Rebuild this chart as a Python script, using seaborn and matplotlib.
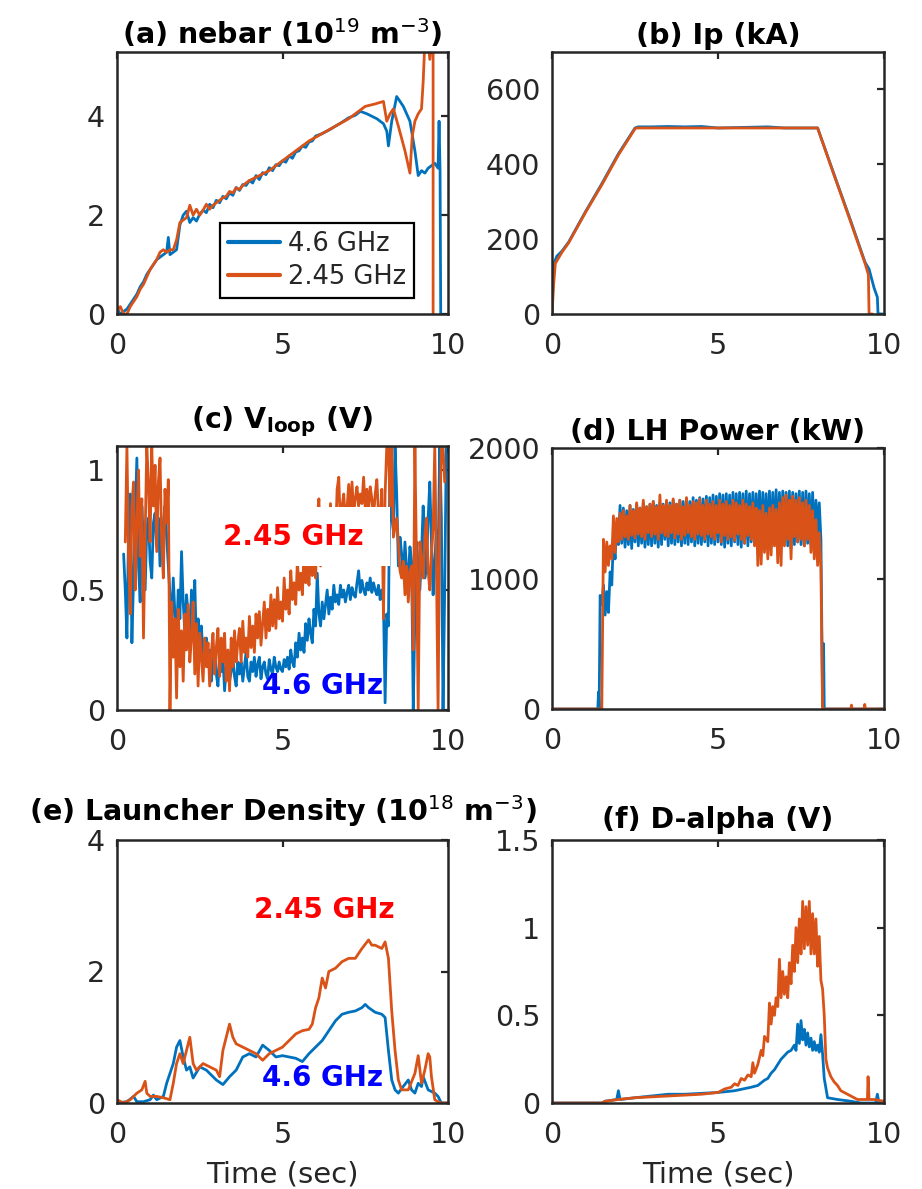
import numpy as np
import matplotlib
matplotlib.use("Agg")
import matplotlib.pyplot as plt
from matplotlib.patches import Rectangle
import seaborn as sns

# ---------------------------------------------------------------- data
SERIES_LABELS = ["4.6 GHz", "2.45 GHz"]
X_TICKS = [0, 5, 10]
X_TICK_LABELS = ["0", "5", "10"]

# (a) line-averaged density nebar (1e19 m^-3)
nebar_46_t = [0.0, 0.05, 0.1, 0.2, 0.3, 0.4, 0.5, 0.6, 0.7, 0.8, 0.9, 1.0, 1.1, 1.2, 1.3, 1.4,
              1.5, 1.55, 1.6, 1.7, 1.8, 1.9, 2.0, 2.1, 2.2, 2.3, 2.4, 2.5, 2.6, 2.7, 2.8, 2.9,
              3.0, 3.1, 3.2, 3.3, 3.4, 3.5, 3.6, 3.7, 3.8, 3.9, 4.0, 4.1, 4.2, 4.3, 4.4, 4.5,
              4.6, 4.7, 4.8, 4.9, 5.0, 5.1, 5.2, 5.3, 5.4, 5.5, 5.6, 5.7, 5.8, 5.9, 6.0,
              6.2, 6.4, 6.6, 6.8, 7.0, 7.2, 7.35, 7.55, 7.85, 8.05, 8.15, 8.2, 8.3, 8.45, 8.65, 8.85,
              9.0, 9.1, 9.2, 9.3, 9.4, 9.5, 9.6, 9.7, 9.73, 9.76, 9.78]
nebar_46_v = [0.15, 0.05, 0.0, 0.05, 0.1, 0.2, 0.3, 0.4, 0.55, 0.65, 0.8, 0.9, 1.0, 1.1, 1.15, 1.2,
              1.25, 1.55, 1.2, 1.25, 1.3, 1.8, 2.0, 2.08, 1.85, 1.95, 1.88, 2.02, 2.1, 2.05, 2.22, 2.15,
              2.3, 2.25, 2.38, 2.33, 2.45, 2.4, 2.56, 2.5, 2.62, 2.6, 2.7, 2.65, 2.8, 2.72, 2.86, 2.82,
              2.96, 2.9, 3.02, 3.0, 3.1, 3.07, 3.2, 3.15, 3.28, 3.3, 3.4, 3.37, 3.48, 3.5, 3.6,
              3.65, 3.72, 3.8, 3.88, 3.97, 4.02, 4.1, 4.05, 3.95, 3.85, 3.7, 3.4, 3.9, 4.4, 4.2, 3.9,
              3.3, 2.8, 2.9, 2.85, 2.95, 3.0, 3.05, 2.95, 3.9, 2.9, 0.0]
nebar_245_t = [0.0, 0.1, 0.2, 0.3, 0.4, 0.5, 0.6, 0.7, 0.8, 0.9, 1.0, 1.1, 1.2, 1.3, 1.4, 1.5,
               1.6, 1.7, 1.8, 1.9, 2.0, 2.1, 2.2, 2.3, 2.4, 2.5, 2.6, 2.7, 2.8, 2.9, 3.0, 3.1,
               3.2, 3.3, 3.4, 3.5, 3.6, 3.7, 3.8, 4.0, 4.3, 4.6, 5.0, 5.4, 5.8, 6.2, 6.6, 7.0,
               7.3, 7.5, 7.8, 8.05, 8.15, 8.25, 8.35, 8.5, 8.7, 8.85, 8.92, 9.0, 9.1, 9.2, 9.25, 9.3,
               9.4, 9.45, 9.5, 9.55, 9.55]
nebar_245_v = [0.05, 0.15, 0.0, 0.0, 0.15, 0.25, 0.35, 0.5, 0.6, 0.75, 0.9, 1.0, 1.1, 1.25, 1.3, 1.25,
               1.3, 1.3, 1.5, 1.85, 1.9, 1.95, 2.2, 2.0, 2.12, 2.0, 2.1, 2.22, 2.12, 2.2, 2.25, 2.3,
               2.35, 2.38, 2.48, 2.45, 2.55, 2.52, 2.6, 2.7, 2.8, 2.9, 3.1, 3.3, 3.5, 3.65, 3.8, 3.95,
               4.1, 4.2, 4.25, 4.3, 3.9, 4.05, 4.15, 3.8, 3.3, 2.85, 3.6, 3.9, 4.05, 4.15, 4.7, 5.5,
               5.5, 5.15, 5.5, 5.5, 0.0]

# (b) plasma current Ip (kA)
ip_46_t = [0.0, 0.03, 0.08, 0.15, 0.3, 0.5, 1.0, 1.5, 2.0, 2.5, 2.6, 3.0, 3.5, 4.0, 4.5, 5.0,
           6.5, 7.0, 8.0, 8.5, 9.0, 9.43, 9.55, 9.7, 9.8, 9.82, 9.95]
ip_46_v = [0, 90, 140, 155, 168, 192, 272, 348, 428, 497, 500, 500, 501, 500, 501, 497,
           500, 497, 497, 372, 248, 138, 120, 70, 45, 0, 0]
ip_245_t = [0.0, 0.05, 0.1, 0.2, 0.3, 0.5, 1.0, 1.5, 2.0, 2.5, 2.55, 8.0, 8.5, 9.0, 9.43, 9.53, 9.55, 9.65]
ip_245_v = [0, 80, 135, 150, 165, 190, 270, 345, 425, 495, 497, 497, 370, 245, 135, 105, 0, 0]

# (c) loop voltage (V), sampled every 0.05 s
VLOOP_DT = 0.05
vloop_46_t0 = 0.2
vloop_46 = [0.65, 0.50, 0.30, 0.75, 0.90, 0.28, 0.55, 0.80, 1.05, 0.60,
            0.45, 0.85, 0.70, 0.50, 0.76, 0.80, 0.62, 0.55, 0.78, 0.82,
            0.68, 0.80, 0.60, 0.74, 0.78, 0.85, 0.72, 0.60, 0.48, 0.35,
            0.55, 0.40, 0.30, 0.50, 0.38, 0.66, 0.45, 0.32, 0.48, 0.40,
            0.28, 0.50, 0.35, 0.54, 0.25, 0.38, 0.30, 0.35, 0.22, 0.28,
            0.30, 0.18, 0.25, 0.12, 0.20, 0.25, 0.15, 0.10, 0.22, 0.16,
            0.22, 0.08, 0.18, 0.20, 0.12, 0.16, 0.22, 0.14, 0.10, 0.20,
            0.15, 0.20, 0.12, 0.18, 0.24, 0.14, 0.12, 0.20, 0.16, 0.22,
            0.14, 0.19, 0.22, 0.13, 0.18, 0.20, 0.15, 0.13, 0.21, 0.17,
            0.15, 0.22, 0.18, 0.16, 0.20, 0.17, 0.16, 0.21, 0.18, 0.22,
            0.17, 0.25, 0.20, 0.18, 0.28, 0.22, 0.32, 0.25, 0.30, 0.24,
            0.36, 0.29, 0.38, 0.32, 0.28, 0.42, 0.35, 0.57, 0.40, 0.35,
            0.45, 0.38, 0.44, 0.50, 0.40, 0.47, 0.42, 0.52, 0.45, 0.48,
            0.44, 0.52, 0.47, 0.50, 0.45, 0.49, 0.52, 0.46, 0.51, 0.48,
            0.47, 0.53, 0.58, 0.49, 0.54, 0.50, 0.48, 0.53, 0.50, 0.55,
            0.49, 0.53, 0.50, 0.48, 0.52, 0.46, 0.50, 0.45, 0.03, 0.40,
            0.35, 1.10, 0.80, 0.75, 1.10, 0.90, 0.60, 0.72, 0.65, 0.55,
            0.70, 0.58, 0.55, 0.68, 0.62, 0.00, 0.40, 0.70, 0.60, 0.50,
            0.65, 0.85, 0.55, 0.60, 0.80, 0.95, 0.70, 0.48, 0.62, 0.75,
            0.60, 1.10, 0.80, 0.00, 0.50, 1.10, 1.10]
vloop_245_t0 = 0.25
vloop_245 = [0.70, 1.10, 0.62, 0.40, 0.85, 0.95, 0.50, 0.78, 1.00, 0.64,
             0.88, 0.30, 0.72, 1.10, 0.95, 0.70, 1.10, 0.85, 1.02, 0.66,
             0.95, 1.05, 0.70, 0.55, 0.92, 0.78, 0.96, 0.00, 0.45, 0.22,
             0.38, 0.05, 0.42, 0.18, 0.33, 0.12, 0.40, 0.25, 0.44, 0.20,
             0.30, 0.45, 0.15, 0.36, 0.10, 0.32, 0.22, 0.12, 0.30, 0.18,
             0.28, 0.10, 0.24, 0.32, 0.15, 0.26, 0.34, 0.14, 0.30, 0.20,
             0.32, 0.12, 0.25, 0.08, 0.30, 0.18, 0.33, 0.20, 0.28, 0.34,
             0.20, 0.37, 0.24, 0.30, 0.22, 0.39, 0.26, 0.35, 0.24, 0.40,
             0.30, 0.41, 0.27, 0.36, 0.45, 0.30, 0.42, 0.33, 0.48, 0.35,
             0.46, 0.34, 0.51, 0.38, 0.45, 0.37, 0.55, 0.42, 0.50, 0.40,
             0.58, 0.46, 0.53, 0.44, 0.62, 0.50, 0.57, 0.48, 0.66, 0.53,
             0.60, 0.52, 0.69, 0.56, 0.63, 0.55, 0.80, 0.88, 0.60, 0.70,
             0.80, 0.66, 0.75, 0.68, 0.86, 0.72, 0.80, 0.70, 0.92, 0.97,
             0.76, 0.85, 0.90, 0.79, 0.84, 0.94, 0.80, 0.95, 0.82, 0.88,
             0.93, 0.85, 0.90, 0.86, 0.97, 0.84, 0.92, 0.83, 0.93, 0.88,
             0.80, 0.90, 0.96, 0.82, 0.76, 0.92, 0.38, 0.90, 1.10, 1.10,
             0.85, 1.10, 0.72, 0.76, 0.80, 0.70, 0.58, 0.55, 0.62, 0.48,
             0.60, 0.45, 0.58, 0.60, 0.25, 1.10, 0.60, 0.00, 0.70, 0.62,
             0.55, 0.72, 0.80, 0.58, 0.50, 0.65, 0.75, 1.10, 0.60, 0.00,
             0.80, 1.10, 1.10, 0.95]

# (d) LH power (kW): off-phase pieces plus the flat-top sampled every 0.05 s
LH_DT = 0.05
lh_46_pre_t = [0.0, 1.38, 1.40, 1.42]
lh_46_pre_v = [0, 0, 130, 0]
lh_46_t0 = 1.45
lh_46 = [870, 800, 950, 720, 900, 740, 1050, 950, 1300, 1150, 1420, 1260,
         1560, 1270, 1540, 1240, 1520, 1260, 1560, 1230, 1530, 1280,
         1570, 1250, 1540, 1270, 1580, 1240, 1550, 1260, 1570, 1250,
         1590, 1270, 1560, 1240, 1580, 1260, 1570, 1300, 1590, 1250,
         1580, 1270, 1600, 1260, 1570, 1280, 1600, 1250, 1590, 1270,
         1610, 1260, 1590, 1280, 1620, 1250, 1600, 1270, 1620, 1260,
         1610, 1280, 1630, 1250, 1620, 1270, 1640, 1260, 1630, 1280,
         1650, 1260, 1640, 1240, 1650, 1270, 1640, 1250, 1660, 1280,
         1650, 1260, 1660, 1240, 1650, 1270, 1670, 1250, 1650, 1280,
         1660, 1260, 1650, 1270, 1670, 1250, 1660, 1280, 1650, 1260,
         1670, 1240, 1660, 1270, 1680, 1250, 1660, 1280, 1670, 1260,
         1660, 1250, 1670, 1230, 1660, 1260, 1650, 1280, 1670, 1260,
         1660, 1250, 1670, 1270, 1650, 1260, 1660, 1280, 1600, 1350,
         1580, 1300]
lh_46_post_t = [8.15, 8.18, 8.2, 10.0]
lh_46_post_v = [20, 500, 0, 0]
lh_245_pre_t = [0.0, 1.5]
lh_245_pre_v = [0, 0]
lh_245_t0 = 1.55
lh_245 = [1300, 1050, 1280, 1100, 1250, 1150, 1480, 1200, 1460, 1280,
          1500, 1300, 1520, 1320, 1480, 1300, 1560, 1330, 1520, 1310,
          1580, 1340, 1540, 1320, 1600, 1300, 1550, 1350, 1570, 1320,
          1590, 1340, 1550, 1300, 1640, 1350, 1560, 1330, 1600, 1320,
          1560, 1350, 1610, 1310, 1570, 1340, 1600, 1300, 1550, 1330,
          1620, 1350, 1560, 1320, 1590, 1300, 1580, 1340, 1610, 1330,
          1560, 1300, 1600, 1340, 1570, 1320, 1590, 1300, 1560, 1350,
          1600, 1280, 1570, 1330, 1590, 1300, 1560, 1320, 1600, 1290,
          1580, 1340, 1560, 1300, 1600, 1270, 1570, 1330, 1550, 1300,
          1580, 1250, 1540, 1100, 1520, 1110, 1560, 1200, 1500, 1150,
          1540, 1180, 1560, 1250, 1530, 1120, 1580, 1100, 1620, 1250,
          1640, 1300, 1600, 1150, 1630, 1320, 1600, 1280, 1620, 1300,
          1580, 1250, 1600, 1300, 1560, 1200, 1520, 1150, 1450, 1100,
          1350, 1080]
lh_245_post_t = [8.15, 9.0, 9.02, 9.04, 9.4, 9.42, 9.44, 10.0]
lh_245_post_v = [0, 0, 30, 0, 0, 35, 0, 0]

# (e) launcher density (1e18 m^-3)
nl_46_t = [0.0, 0.3, 0.5, 0.6, 0.8, 1.0, 1.1, 1.2, 1.4, 1.5, 1.6, 1.7, 1.8, 1.9, 2.0, 2.1,
           2.2, 2.3, 2.5, 2.7, 2.9, 3.0, 3.2, 3.4, 3.6, 3.8, 4.0, 4.2, 4.4, 4.6, 4.8, 5.0,
           5.2, 5.4, 5.6, 5.8, 6.0, 6.2, 6.4, 6.6, 6.8, 7.0, 7.2, 7.4, 7.5, 7.6, 7.8, 8.0,
           8.1, 8.2, 8.3, 8.4, 8.5, 8.6, 8.8, 8.9, 9.0, 9.1, 9.2, 9.25, 9.4, 9.6, 9.7, 9.8, 10.0]
nl_46_v = [0.0, 0.02, 0.1, 0.02, 0.02, 0.05, 0.12, 0.05, 0.1, 0.3, 0.45, 0.6, 0.85, 0.95, 0.7, 0.5,
           0.55, 0.38, 0.55, 0.5, 0.4, 0.35, 0.28, 0.4, 0.5, 0.7, 0.75, 0.7, 0.88, 0.8, 0.7, 0.72,
           0.7, 0.68, 0.63, 0.75, 0.85, 0.95, 1.1, 1.25, 1.35, 1.38, 1.4, 1.45, 1.5, 1.45, 1.38, 1.35,
           1.3, 0.8, 0.35, 0.2, 0.15, 0.22, 0.35, 0.2, 0.15, 0.3, 0.25, 0.4, 0.2, 0.15, 0.1, 0.0, 0.0]
nl_245_t = [0.0, 0.2, 0.4, 0.6, 0.75, 0.85, 0.9, 1.0, 1.2, 1.4, 1.6, 1.7, 1.8, 1.9, 2.0, 2.1,
            2.2, 2.3, 2.4, 2.6, 2.8, 3.0, 3.1, 3.2, 3.3, 3.4, 3.5, 3.6, 3.8, 4.0, 4.2, 4.4,
            4.6, 4.8, 5.0, 5.2, 5.4, 5.6, 5.8, 5.9, 6.0, 6.1, 6.2, 6.3, 6.4, 6.6, 6.8, 7.0,
            7.2, 7.4, 7.6, 7.7, 7.8, 8.0, 8.1, 8.2, 8.3, 8.4, 8.5, 8.6, 8.8, 9.0, 9.1, 9.2,
            9.3, 9.4, 9.45, 9.5, 9.6, 9.7, 9.8, 10.0]
nl_245_v = [0.05, 0.0, 0.05, 0.15, 0.2, 0.33, 0.15, 0.1, 0.1, 0.08, 0.05, 0.3, 0.6, 0.75, 0.6, 0.8,
            1.0, 0.6, 0.5, 0.6, 0.55, 0.5, 0.4, 0.8, 1.0, 1.2, 1.0, 0.9, 0.85, 0.8, 0.75, 0.65,
            0.75, 0.8, 0.85, 0.95, 1.05, 1.1, 1.12, 1.2, 1.45, 1.6, 1.9, 1.75, 2.0, 2.05, 2.15, 2.2,
            2.2, 2.35, 2.48, 2.4, 2.4, 2.35, 2.45, 2.2, 1.4, 0.8, 0.35, 0.2, 0.2, 0.45, 0.72, 0.3,
            0.5, 0.75, 0.7, 0.4, 0.05, 0.02, 0.0, 0.0]

# (f) D-alpha (V)
da_46_t = [0.0, 1.5, 1.6, 1.95, 2.0, 2.05, 2.5, 3.0, 3.5, 4.0, 4.5, 5.0, 5.5, 6.0,
           6.2, 6.4, 6.5, 6.6, 6.7, 6.8, 6.9, 7.0, 7.1, 7.2, 7.3, 7.35, 7.4, 7.45, 7.5, 7.55,
           7.6, 7.65, 7.7, 7.75, 7.8, 7.85, 7.9, 7.95, 8.0, 8.05, 8.1, 8.15, 8.2, 8.3, 8.6, 9.0,
           9.3, 9.75, 9.8, 9.85, 10.0]
da_46_v = [0.0, 0.0, 0.01, 0.02, 0.07, 0.02, 0.03, 0.04, 0.05, 0.05, 0.055, 0.06, 0.07, 0.09,
           0.1, 0.13, 0.14, 0.17, 0.19, 0.22, 0.25, 0.27, 0.29, 0.3, 0.33, 0.3, 0.45, 0.34, 0.47, 0.36,
           0.42, 0.33, 0.4, 0.32, 0.37, 0.3, 0.35, 0.3, 0.33, 0.29, 0.39, 0.28, 0.14, 0.03, 0.02, 0.01,
           0.0, 0.0, 0.05, 0.0, 0.0]
da_245_t = [0.0, 1.5, 1.6, 2.0, 2.5, 3.0, 3.5, 4.0, 4.5, 5.0, 5.2, 5.4, 5.5, 5.6, 5.7, 5.8,
            5.9, 6.0, 6.05, 6.1, 6.2, 6.3, 6.35, 6.4, 6.5, 6.55, 6.6, 6.65, 6.7, 6.75, 6.8, 6.85,
            6.9, 6.95, 7.0, 7.05, 7.1, 7.15, 7.2, 7.25, 7.3, 7.35, 7.4, 7.45, 7.5, 7.55, 7.6, 7.65,
            7.7, 7.75, 7.8, 7.85, 7.9, 7.95, 8.0, 8.05, 8.1, 8.15, 8.2, 8.25, 8.3, 8.4, 8.5, 8.6,
            8.7, 8.8, 9.0, 9.2, 9.4, 9.5, 9.52, 9.55, 9.7, 10.0]
da_245_v = [0.0, 0.0, 0.01, 0.02, 0.03, 0.035, 0.04, 0.045, 0.05, 0.06, 0.08, 0.09, 0.11, 0.1, 0.14, 0.13,
            0.16, 0.15, 0.23, 0.17, 0.22, 0.3, 0.27, 0.38, 0.35, 0.57, 0.45, 0.55, 0.5, 0.6, 0.55, 0.82,
            0.6, 0.75, 0.62, 0.72, 0.6, 0.8, 0.68, 0.9, 0.75, 1.0, 0.8, 1.05, 0.85, 1.15, 0.88, 1.12,
            0.9, 1.15, 0.85, 1.08, 0.85, 1.05, 0.78, 0.95, 0.7, 0.65, 0.5, 0.25, 0.2, 0.15, 0.12, 0.1,
            0.07, 0.06, 0.04, 0.02, 0.02, 0.02, 0.15, 0.02, 0.02, 0.01]

# ---------------------------------------------------------------- style
BLUE = "#0072BD"
ORANGE = "#D95319"
INK = "#262626"
LW = 2.0

sns.set_theme(style="white")
plt.rcParams["font.family"] = ["DejaVu Sans"]
plt.rcParams["mathtext.fontset"] = "dejavusans"

W, H = 922, 1189
fig = plt.figure(figsize=(W / 100, H / 100), dpi=100)


def add_axes(left, top, right, bottom):
    return fig.add_axes([left / W, 1 - bottom / H, (right - left) / W, (bottom - top) / H])


ax_a = add_axes(117, 52, 448, 314)
ax_b = add_axes(552, 52, 884, 314)
ax_c = add_axes(117, 446, 448, 710)
ax_d = add_axes(552, 448, 884, 709)
ax_e = add_axes(117, 840, 448, 1103)
ax_f = add_axes(552, 840, 884, 1103)


def trace(ax, t, v, color, label=None):
    sns.lineplot(x=np.asarray(t, float), y=np.asarray(v, float), ax=ax, color=color,
                 lw=LW, estimator=None, sort=False, label=label, legend=False)


def grid(t0, dt, values):
    return t0 + dt * np.arange(len(values))


def finish(ax, ylim, yticks, ylabels, title, xlabel=None, title_pad=6):
    ax.set_xlim(0, 10)
    ax.set_ylim(*ylim)
    ax.set_xticks(X_TICKS)
    ax.set_xticklabels(X_TICK_LABELS)
    ax.set_yticks(yticks)
    ax.set_yticklabels(ylabels)
    ax.tick_params(axis="both", direction="in", length=5, width=1.6, colors=INK,
                   labelsize=20.5, top=True, right=True)
    ax.tick_params(axis="x", pad=13)
    ax.tick_params(axis="y", pad=8.5)
    for s in ax.spines.values():
        s.set_visible(True)
        s.set_linewidth(1.8)
        s.set_color(INK)
    ax.set_title(title, fontsize=20.5, fontweight="bold", color="black", pad=title_pad)
    ax.set_xlabel(xlabel if xlabel else "", fontsize=21, color=INK, labelpad=8)
    ax.set_ylabel("")


# (a)
trace(ax_a, nebar_46_t, nebar_46_v, BLUE, SERIES_LABELS[0])
trace(ax_a, nebar_245_t, nebar_245_v, ORANGE, SERIES_LABELS[1])
finish(ax_a, (0, 5.3), [0, 2, 4], ["0", "2", "4"], r"(a) nebar (10$^{19}$ m$^{-3}$)")
leg = ax_a.legend(loc="lower right", bbox_to_anchor=(0.897, 0.061), fontsize=18.5,
                  frameon=True, fancybox=False, framealpha=1, edgecolor="black",
                  handlelength=2.05, handletextpad=0.3, labelspacing=0.3, borderpad=0.3,
                  borderaxespad=0)
leg.get_frame().set_linewidth(1.6)
for h in leg.get_lines():
    h.set_linewidth(3)
for txt in leg.get_texts():
    txt.set_color(INK)

# (b)
trace(ax_b, ip_46_t, ip_46_v, BLUE)
trace(ax_b, ip_245_t, ip_245_v, ORANGE)
finish(ax_b, (0, 700), [0, 200, 400, 600], ["0", "200", "400", "600"], "(b) Ip (kA)")

# (c)
trace(ax_c, grid(vloop_46_t0, VLOOP_DT, vloop_46), vloop_46, BLUE)
trace(ax_c, grid(vloop_245_t0, VLOOP_DT, vloop_245), vloop_245, ORANGE)
finish(ax_c, (0, 1.1), [0, 0.5, 1], ["0", "0.5", "1"], r"(c) V$_{\mathbf{loop}}$ (V)",
       title_pad=13)
ax_c.add_patch(Rectangle((0.305, 0.545), 0.52, 0.224, transform=ax_c.transAxes,
                         facecolor="white", edgecolor="none", zorder=4))
ax_c.text(5.32, 0.72, SERIES_LABELS[1], color="#FF0000", fontsize=20, fontweight="bold",
          ha="center", va="center", zorder=5)
ax_c.text(6.2, 0.10, SERIES_LABELS[0], color="#0000FF", fontsize=20, fontweight="bold",
          ha="center", va="center", zorder=5)

# (d)
trace(ax_d, np.concatenate([lh_46_pre_t, grid(lh_46_t0, LH_DT, lh_46), lh_46_post_t]),
      np.concatenate([lh_46_pre_v, lh_46, lh_46_post_v]), BLUE)
trace(ax_d, np.concatenate([lh_245_pre_t, grid(lh_245_t0, LH_DT, lh_245), lh_245_post_t]),
      np.concatenate([lh_245_pre_v, lh_245, lh_245_post_v]), ORANGE)
finish(ax_d, (0, 2000), [0, 1000, 2000], ["0", "1000", "2000"], "(d) LH Power (kW)")

# (e)
trace(ax_e, nl_46_t, nl_46_v, BLUE)
trace(ax_e, nl_245_t, nl_245_v, ORANGE)
finish(ax_e, (0, 4), [0, 2, 4], ["0", "2", "4"],
       r"(e) Launcher Density (10$^{18}$ m$^{-3}$)", xlabel="Time (sec)", title_pad=14)
ax_e.text(6.25, 2.94, SERIES_LABELS[1], color="#FF0000", fontsize=20, fontweight="bold",
          ha="center", va="center", zorder=5)
ax_e.text(6.2, 0.38, SERIES_LABELS[0], color="#0000FF", fontsize=20, fontweight="bold",
          ha="center", va="center", zorder=5)

# (f)
trace(ax_f, da_46_t, da_46_v, BLUE)
trace(ax_f, da_245_t, da_245_v, ORANGE)
finish(ax_f, (0, 1.5), [0, 0.5, 1, 1.5], ["0", "0.5", "1", "1.5"], "(f) D-alpha (V)",
       xlabel="Time (sec)", title_pad=9)

fig.savefig("out.png", dpi=100, facecolor="white")
